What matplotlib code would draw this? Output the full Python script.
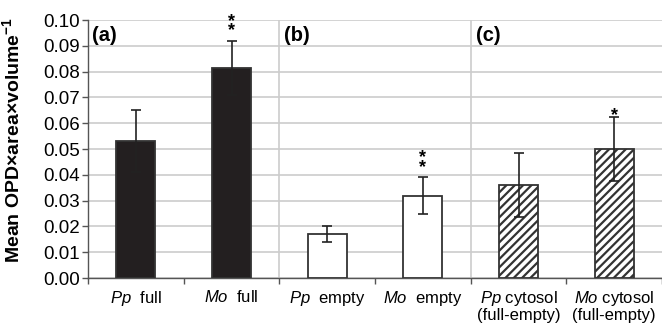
import matplotlib
matplotlib.use("Agg")
import matplotlib.pyplot as plt
import numpy as np

plt.rcParams['font.family'] = ['Liberation Sans', 'DejaVu Sans']
plt.rcParams['mathtext.fontset'] = 'custom'
plt.rcParams['mathtext.rm'] = 'Liberation Sans'
plt.rcParams['mathtext.it'] = 'Liberation Sans:italic'
plt.rcParams['mathtext.bf'] = 'Liberation Sans:bold'
plt.rcParams['hatch.linewidth'] = 1.6

categories = ["$\\it{Pp}$  full", "$\\it{Mo}$  full", "$\\it{Pp}$  empty", "$\\it{Mo}$  empty",
              "$\\it{Pp}$ cytosol\n(full-empty)", "$\\it{Mo}$ cytosol\n(full-empty)"]
values = [0.053, 0.0815, 0.017, 0.032, 0.036, 0.050]
errors = [0.012, 0.0105, 0.003, 0.0072, 0.0125, 0.0125]
star_counts = [0, 2, 0, 2, 0, 1]
panel_labels = ["(a)", "(b)", "(c)"]
yticks = [0.00, 0.01, 0.02, 0.03, 0.04, 0.05, 0.06, 0.07, 0.08, 0.09, 0.10]

fig = plt.figure(figsize=(6.62, 3.23), dpi=100)
ax = fig.add_axes([0.133, 0.139, 0.867, 0.799])

x = np.arange(len(categories))
face = ['#231f20', '#231f20', 'white', 'white', 'white', 'white']
hatch = [None, None, None, None, '////', '////']
for i in range(len(x)):
    ax.bar(x[i], values[i], width=0.41, color=face[i], edgecolor='#333333',
           linewidth=1.3, hatch=hatch[i], zorder=3)
ax.errorbar(x, values, yerr=errors, fmt='none', ecolor='#222222', elinewidth=1.2,
            capsize=3.5, capthick=1.2, zorder=4)
for i, n in enumerate(star_counts):
    if n == 0:
        continue
    ax.annotate("\n".join(["*"] * n), xy=(x[i], values[i] + errors[i]),
                xytext=(0, -3.5 + 8.7 * (n - 1)), textcoords='offset pixels',
                ha='center', va='baseline', fontsize=13, fontweight='bold',
                linespacing=0.42, zorder=5)

ax.set_xlim(-0.5, 5.5)
ax.set_ylim(0, 0.10)
ax.set_yticks(yticks)
ax.set_yticklabels([f"{v:.2f}" for v in yticks], fontsize=13.5)
ax.yaxis.grid(True, color='#cccccc', linewidth=1.2, zorder=0)
for xv in [1.5, 3.5]:
    ax.axvline(xv, color='#cccccc', linewidth=1.2, zorder=0)

ax.set_xticks(x)
ax.set_xticklabels(categories, fontsize=12, linespacing=1.0)
ax.tick_params(axis='x', which='major', length=0, pad=8)
ax.set_xticks(np.arange(-0.5, 6.0, 1.0), minor=True)
ax.tick_params(axis='x', which='minor', length=4, width=1, color='#555555', direction='out')
ax.tick_params(axis='y', length=4, width=1, color='#555555', pad=2)

for side in ['top', 'right']:
    ax.spines[side].set_visible(False)
ax.spines['left'].set_color('#555555')
ax.spines['bottom'].set_color('#555555')
ax.spines['left'].set_linewidth(1)
ax.spines['bottom'].set_linewidth(1)

for px, lab in zip([-0.458, 1.552, 3.56], panel_labels):
    ax.text(px, 0.0975, lab, ha='left', va='top', fontsize=14.5, fontweight='bold')

ax.set_ylabel("Mean OPD×area×volume$^{\\mathbf{-1}}$", fontsize=14, fontweight='bold')
ax.yaxis.set_label_coords(-0.113, 0.535)

fig.savefig("out.png", dpi=100)
